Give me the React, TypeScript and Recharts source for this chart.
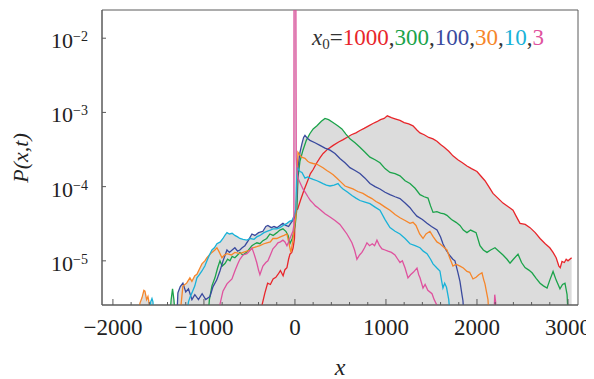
import { ComposedChart, Line, Area, XAxis, YAxis, ReferenceArea } from 'recharts';

// P(x,t), one list per starting point x0
const red = [
  [-380, 1.5e-6], [-360, 2.6e-6], [-330, 3.7e-6], [-300, 5.0e-6], [-270, 4.8e-6], [-240, 5.7e-6],
  [-210, 6.0e-6], [-185, 6.6e-6], [-160, 7.4e-6], [-130, 6.3e-6], [-110, 7.6e-6], [-88, 8.1e-6],
  [-70, 1.05e-5], [-55, 1.23e-5], [-35, 1.3e-5], [-20, 1.5e-5], [-5, 2.0e-5], [0, 3.2e-5],
  [8, 4.8e-5], [30, 5.0e-5], [60, 6.5e-5], [100, 9.0e-5], [140, 1.2e-4], [170, 1.5e-4],
  [200, 1.7e-4], [240, 2.1e-4], [280, 2.5e-4], [310, 2.8e-4], [360, 3.2e-4], [420, 3.6e-4],
  [480, 4.0e-4], [530, 4.3e-4], [570, 4.6e-4], [620, 5.0e-4], [670, 5.3e-4], [714, 5.7e-4],
  [760, 6.1e-4], [810, 6.6e-4], [857, 7.1e-4], [900, 7.5e-4], [940, 8.0e-4], [980, 8.3e-4],
  [1015, 9.0e-4], [1060, 8.5e-4], [1100, 8.2e-4], [1154, 7.8e-4], [1200, 7.3e-4], [1250, 7.0e-4],
  [1297, 6.6e-4], [1340, 5.8e-4], [1374, 5.3e-4], [1420, 5.0e-4], [1470, 4.6e-4], [1517, 4.4e-4],
  [1560, 4.1e-4], [1600, 3.7e-4], [1640, 3.4e-4], [1690, 3.0e-4], [1736, 2.6e-4], [1790, 2.3e-4],
  [1840, 2.1e-4], [1890, 1.9e-4], [1940, 1.75e-4], [2000, 1.6e-4], [2040, 1.4e-4], [2088, 1.2e-4],
  [2130, 1.0e-4], [2176, 8.1e-5], [2230, 7.0e-5], [2286, 6.0e-5], [2340, 5.4e-5], [2396, 4.8e-5],
  [2430, 4.0e-5], [2473, 3.2e-5], [2530, 3.1e-5], [2583, 2.8e-5], [2640, 2.4e-5], [2693, 2.0e-5],
  [2750, 1.7e-5], [2800, 1.5e-5], [2836, 1.3e-5], [2870, 1.1e-5], [2900, 8.5e-6], [2915, 8.1e-6],
  [2934, 9.8e-6], [2960, 9.5e-6], [2980, 1.05e-5], [3000, 1.0e-5], [3040, 1.1e-5],
];

const green = [
  [-1380, 1.5e-6], [-1360, 3.0e-6], [-1345, 4.2e-6], [-1330, 3.0e-6], [-1310, 1.5e-6],
  [-960, 1.5e-6], [-940, 3.0e-6], [-912, 4.6e-6], [-879, 5.9e-6], [-850, 8.0e-6], [-824, 1.0e-5],
  [-800, 8.5e-6], [-769, 9.2e-6], [-740, 1.05e-5], [-714, 1.0e-5], [-690, 1.15e-5], [-660, 1.1e-5],
  [-630, 1.2e-5], [-605, 1.3e-5], [-575, 1.2e-5], [-550, 1.25e-5], [-510, 1.4e-5], [-473, 1.6e-5],
  [-440, 1.7e-5], [-418, 1.75e-5], [-385, 1.7e-5], [-352, 1.87e-5], [-310, 2.0e-5], [-275, 2.3e-5],
  [-240, 2.2e-5], [-198, 2.4e-5], [-165, 2.6e-5], [-132, 2.7e-5], [-100, 2.5e-5], [-75, 2.2e-5],
  [-55, 1.7e-5], [-30, 2.0e-5], [-11, 2.5e-5], [5, 3.2e-5], [22, 5.2e-5], [33, 1.3e-4],
  [55, 2.2e-4], [88, 3.1e-4], [125, 4.2e-4], [165, 5.2e-4], [200, 6.0e-4], [242, 6.6e-4],
  [290, 7.6e-4], [330, 8.3e-4], [370, 8.0e-4], [418, 7.3e-4], [470, 6.6e-4], [516, 6.0e-4],
  [560, 5.1e-4], [604, 4.4e-4], [660, 3.9e-4], [714, 3.4e-4], [770, 2.9e-4], [824, 2.5e-4],
  [880, 2.3e-4], [934, 2.1e-4], [990, 1.75e-4], [1044, 1.55e-4], [1100, 1.5e-4], [1154, 1.4e-4],
  [1210, 1.2e-4], [1264, 1.1e-4], [1320, 9.5e-5], [1374, 7.8e-5], [1420, 7.3e-5], [1462, 7.0e-5],
  [1490, 5.5e-5], [1517, 4.5e-5], [1560, 4.6e-5], [1600, 4.4e-5], [1640, 4.3e-5], [1670, 4.1e-5],
  [1720, 3.6e-5], [1770, 3.3e-5], [1813, 3.0e-5], [1850, 2.6e-5], [1890, 2.4e-5], [1930, 2.6e-5],
  [1960, 2.5e-5], [1990, 2.4e-5], [2033, 1.6e-5], [2070, 1.4e-5], [2110, 1.3e-5], [2150, 1.4e-5],
  [2198, 1.5e-5], [2240, 1.35e-5], [2286, 1.2e-5], [2330, 1.05e-5], [2363, 9.3e-6], [2400, 1.05e-5],
  [2451, 1.23e-5], [2490, 9.5e-6], [2528, 8.1e-6], [2570, 7.5e-6], [2605, 6.9e-6], [2650, 5.8e-6],
  [2693, 5.0e-6], [2730, 4.6e-6], [2770, 4.3e-6], [2800, 5.5e-6], [2836, 7.2e-6], [2870, 5.5e-6],
  [2912, 4.2e-6], [2940, 4.8e-6], [2967, 5.0e-6], [2990, 3.5e-6], [3005, 1.5e-6],
];

const blue = [
  [-1300, 1.5e-6], [-1286, 3.7e-6], [-1260, 4.5e-6], [-1231, 5.0e-6], [-1200, 3.8e-6], [-1170, 4.2e-6],
  [-1132, 3.0e-6], [-1100, 3.5e-6], [-1060, 3.0e-6], [-1020, 3.6e-6], [-980, 3.0e-6], [-934, 3.3e-6],
  [-900, 4.5e-6], [-860, 5.5e-6], [-824, 7.3e-6], [-790, 1.0e-5], [-747, 1.4e-5], [-720, 1.3e-5],
  [-690, 1.4e-5], [-660, 1.5e-5], [-630, 1.35e-5], [-605, 1.4e-5], [-580, 1.5e-5], [-550, 1.6e-5],
  [-510, 1.9e-5], [-473, 2.3e-5], [-440, 2.2e-5], [-400, 2.4e-5], [-352, 2.5e-5], [-320, 2.9e-5],
  [-297, 3.0e-5], [-260, 2.8e-5], [-230, 2.9e-5], [-198, 2.8e-5], [-165, 3.0e-5], [-132, 3.2e-5],
  [-100, 3.0e-5], [-70, 2.9e-5], [-40, 3.3e-5], [-10, 3.7e-5], [10, 4.5e-5], [25, 9.0e-5],
  [33, 1.8e-4], [55, 2.9e-4], [77, 3.8e-4], [95, 4.6e-4], [110, 4.9e-4], [135, 4.5e-4],
  [165, 4.2e-4], [220, 3.9e-4], [275, 3.6e-4], [330, 3.3e-4], [385, 3.1e-4], [440, 2.8e-4],
  [494, 2.4e-4], [550, 2.1e-4], [604, 1.8e-4], [660, 1.65e-4], [714, 1.5e-4], [770, 1.3e-4],
  [824, 1.1e-4], [880, 1.0e-4], [934, 9.3e-5], [990, 8.4e-5], [1044, 7.8e-5], [1100, 7.3e-5],
  [1154, 6.9e-5], [1210, 6.0e-5], [1264, 5.2e-5], [1297, 4.6e-5], [1340, 4.0e-5], [1400, 3.6e-5],
  [1451, 3.2e-5], [1500, 2.9e-5], [1561, 2.6e-5], [1600, 2.1e-5], [1626, 1.7e-5], [1660, 1.4e-5],
  [1703, 1.17e-5], [1735, 1.05e-5], [1758, 1.0e-5], [1790, 7.0e-6], [1813, 5.3e-6], [1835, 3.5e-6],
  [1846, 2.9e-6], [1860, 1.5e-6],
];

const orange = [
  [-1720, 1.5e-6], [-1703, 2.7e-6], [-1680, 3.2e-6], [-1660, 4.0e-6], [-1648, 3.9e-6], [-1630, 3.0e-6],
  [-1615, 3.3e-6], [-1600, 2.6e-6], [-1585, 1.5e-6],
  [-1270, 1.5e-6], [-1231, 4.6e-6], [-1190, 5.0e-6], [-1154, 5.9e-6], [-1132, 5.3e-6], [-1100, 6.3e-6],
  [-1077, 6.6e-6], [-1044, 8.0e-6], [-1022, 9.1e-6], [-990, 1.0e-5], [-967, 1.1e-5], [-940, 1.2e-5],
  [-912, 1.3e-5], [-880, 1.4e-5], [-857, 1.5e-5], [-830, 1.3e-5], [-802, 1.1e-5], [-775, 1.2e-5],
  [-747, 1.25e-5], [-700, 1.2e-5], [-660, 1.3e-5], [-605, 1.25e-5], [-570, 1.3e-5], [-528, 1.35e-5],
  [-490, 1.4e-5], [-462, 1.5e-5], [-420, 1.55e-5], [-385, 1.6e-5], [-340, 1.7e-5], [-308, 1.75e-5],
  [-270, 1.8e-5], [-242, 2.0e-5], [-200, 2.0e-5], [-160, 2.1e-5], [-120, 2.2e-5], [-88, 2.3e-5],
  [-65, 1.7e-5], [-45, 1.3e-5], [-25, 1.8e-5], [-10, 2.7e-5], [10, 4.0e-5], [22, 1.2e-4],
  [33, 2.9e-4], [50, 2.7e-4], [75, 2.5e-4], [110, 2.4e-4], [140, 2.2e-4], [165, 2.1e-4],
  [200, 2.05e-4], [242, 2.0e-4], [275, 1.9e-4], [308, 1.8e-4], [350, 1.65e-4], [385, 1.55e-4],
  [420, 1.45e-4], [462, 1.3e-4], [506, 1.15e-4], [550, 1.02e-4], [590, 9.8e-5], [637, 9.3e-5],
  [690, 8.6e-5], [747, 8.1e-5], [800, 7.4e-5], [846, 6.9e-5], [890, 6.3e-5], [934, 5.9e-5],
  [990, 5.3e-5], [1044, 4.8e-5], [1100, 4.2e-5], [1154, 3.8e-5], [1210, 3.5e-5], [1264, 3.2e-5],
  [1297, 3.3e-5], [1330, 3.0e-5], [1370, 2.3e-5], [1407, 2.0e-5], [1440, 2.3e-5], [1483, 2.5e-5],
  [1520, 2.1e-5], [1560, 1.8e-5], [1593, 1.7e-5], [1630, 1.55e-5], [1670, 1.4e-5], [1700, 1.1e-5],
  [1736, 8.5e-6], [1770, 9.0e-6], [1813, 8.5e-6], [1850, 8.0e-6], [1890, 7.2e-6], [1920, 7.0e-6],
  [1956, 5.7e-6], [1990, 6.0e-6], [2020, 6.5e-6], [2055, 6.9e-6], [2075, 5.5e-6], [2088, 4.9e-6],
  [2105, 3.8e-6], [2121, 3.0e-6], [2135, 1.5e-6],
];

const cyan = [
  [-1600, 1.5e-6], [-1585, 2.8e-6], [-1571, 3.1e-6], [-1560, 2.8e-6], [-1550, 1.5e-6],
  [-1200, 1.5e-6], [-1170, 2.8e-6], [-1150, 3.3e-6], [-1132, 3.7e-6], [-1100, 4.6e-6], [-1077, 5.9e-6],
  [-1050, 6.5e-6], [-1022, 7.3e-6], [-990, 8.5e-6], [-967, 1.0e-5], [-940, 1.2e-5], [-912, 1.4e-5],
  [-885, 1.5e-5], [-857, 1.7e-5], [-820, 1.8e-5], [-791, 2.0e-5], [-770, 2.2e-5], [-747, 2.4e-5],
  [-720, 2.3e-5], [-690, 2.35e-5], [-660, 2.2e-5], [-630, 2.1e-5], [-605, 2.0e-5], [-570, 1.95e-5],
  [-528, 1.9e-5], [-490, 2.0e-5], [-450, 1.95e-5], [-420, 2.1e-5], [-385, 2.2e-5], [-340, 2.4e-5],
  [-308, 2.5e-5], [-270, 2.6e-5], [-242, 2.7e-5], [-200, 2.7e-5], [-165, 2.8e-5], [-130, 3.0e-5],
  [-88, 3.2e-5], [-60, 3.4e-5], [-33, 3.5e-5], [-10, 4.0e-5], [10, 5.0e-5], [22, 1.8e-4],
  [33, 1.75e-4], [55, 1.6e-4], [77, 1.55e-4], [110, 1.3e-4], [140, 1.35e-4], [165, 1.3e-4],
  [200, 1.25e-4], [242, 1.2e-4], [275, 1.15e-4], [308, 1.1e-4], [345, 1.05e-4], [385, 1.02e-4],
  [430, 1.05e-4], [473, 1.1e-4], [500, 1.0e-4], [528, 9.3e-5], [580, 8.4e-5], [626, 7.6e-5],
  [670, 7.0e-5], [714, 6.5e-5], [770, 6.2e-5], [824, 5.9e-5], [880, 5.3e-5], [934, 4.8e-5],
  [990, 3.6e-5], [1044, 2.8e-5], [1100, 2.5e-5], [1154, 2.3e-5], [1210, 2.0e-5], [1264, 1.7e-5],
  [1320, 1.6e-5], [1374, 1.5e-5], [1410, 1.35e-5], [1451, 1.25e-5], [1490, 1.05e-5], [1517, 9.1e-6],
  [1560, 8.0e-6], [1593, 7.3e-6], [1610, 5.5e-6], [1626, 4.3e-6], [1645, 5.0e-6], [1665, 4.4e-6],
  [1690, 3.0e-6], [1710, 1.5e-6],
];

const pink = [
  [-840, 1.5e-6], [-824, 2.6e-6], [-791, 3.9e-6], [-747, 4.9e-6], [-692, 5.7e-6], [-660, 7.3e-6],
  [-630, 9.0e-6], [-605, 1.05e-5], [-570, 1.2e-5], [-528, 1.25e-5], [-500, 1.35e-5], [-473, 1.5e-5],
  [-450, 1.25e-5], [-420, 9.5e-6], [-400, 7.5e-6], [-385, 6.5e-6], [-352, 8.5e-6], [-320, 9.5e-6],
  [-297, 1.0e-5], [-270, 1.2e-5], [-242, 1.45e-5], [-210, 1.6e-5], [-187, 1.75e-5], [-160, 1.8e-5],
  [-132, 1.9e-5], [-110, 1.8e-5], [-88, 1.6e-5], [-70, 1.8e-5], [-55, 2.0e-5], [-35, 2.3e-5],
  [-22, 2.5e-5], [-12, 3.0e-5], [-10, 0.05], [10, 0.05], [14, 2.5e-4], [22, 1.6e-4],
  [33, 1.3e-4], [60, 1.1e-4], [88, 9.3e-5], [110, 8.5e-5], [143, 7.3e-5], [170, 6.5e-5],
  [198, 6.0e-5], [225, 5.5e-5], [253, 5.2e-5], [285, 4.8e-5], [330, 4.3e-5], [385, 3.9e-5],
  [440, 3.5e-5], [494, 3.1e-5], [530, 2.7e-5], [571, 2.3e-5], [600, 2.0e-5], [626, 1.75e-5],
  [655, 1.4e-5], [681, 1.05e-5], [710, 1.2e-5], [736, 1.3e-5], [765, 1.5e-5], [791, 1.75e-5],
  [820, 1.6e-5], [850, 1.7e-5], [875, 1.6e-5], [901, 1.9e-5], [930, 1.6e-5], [956, 1.45e-5],
  [990, 1.4e-5], [1022, 1.35e-5], [1060, 1.3e-5], [1099, 1.2e-5], [1130, 1.05e-5], [1154, 9.5e-6],
  [1180, 1.0e-5], [1210, 8.0e-6], [1242, 5.9e-6], [1270, 6.5e-6], [1300, 7.0e-6], [1341, 8.0e-6],
  [1360, 6.5e-6], [1374, 5.9e-6], [1407, 4.3e-6], [1430, 4.8e-6], [1460, 4.0e-6], [1506, 3.6e-6],
  [1530, 3.0e-6], [1561, 2.5e-6], [1580, 1.5e-6],
  [2185, 1.5e-6], [2195, 3.5e-6], [2205, 2.8e-6], [2215, 1.5e-6],
];

const x0Labels = ['1000', '300', '100', '30', '10', '3'];
const xTicks = [-2000, -1800, -1600, -1400, -1200, -1000, -800, -600, -400, -200, 0, 200, 400, 600, 800, 1000,
  1200, 1400, 1600, 1800, 2000, 2200, 2400, 2600, 2800, 3000];
const yTicks = [1e-5, 1e-4, 1e-3, 1e-2];

const X_DOMAIN: [number, number] = [-2120, 3110];
const Y_DOMAIN: [number, number] = [2.54e-6, 0.024];

const SERIF = '"Liberation Serif", "DejaVu Serif", serif';
const AXIS = '#5a5a5a';
const SHADE = '#dcdcdc';

const series = [
  { name: x0Labels[0], color: '#e8262b', data: red },
  { name: x0Labels[1], color: '#1ba34a', data: green },
  { name: x0Labels[2], color: '#3a4a9e', data: blue },
  { name: x0Labels[3], color: '#f6862a', data: orange },
  { name: x0Labels[4], color: '#19b2d8', data: cyan },
  { name: x0Labels[5], color: '#df529e', data: pink },
].map((s) => ({ ...s, points: s.data.map(([x, y]) => ({ x, y })) }));

const fmt = (v: number) => (v < 0 ? '\u2212' + Math.abs(v) : String(v));

function XTick({ x, y, payload }: any) {
  const v = payload.value as number;
  const major = v % 1000 === 0;
  return (
    <g>
      <line x1={x} x2={x} y1={y} y2={y - (major ? 6 : 3)} stroke={AXIS} />
      {major && (
        <text x={x} y={y + 30} textAnchor="middle" fontSize={23} fill="#222" fontFamily={SERIF}>
          {fmt(v)}
        </text>
      )}
    </g>
  );
}

function YTick({ x, y, payload }: any) {
  const e = Math.round(Math.log10(payload.value));
  return (
    <g>
      <line x1={x} x2={x + 4} y1={y} y2={y} stroke={AXIS} />
      <text x={x - 14} y={y + 10} textAnchor="end" fontSize={22} fill="#222" fontFamily={SERIF}>
        <tspan>10</tspan>
        <tspan fontSize={14} dy={-7}>{'\u2212' + Math.abs(e)}</tspan>
      </text>
    </g>
  );
}

export default function App() {
  return (
    <div style={{ position: 'relative', width: 594, height: 379, margin: '-8px 0 0 -8px' }}>
      <ComposedChart width={594} height={379} margin={{ top: 10, right: 16, left: 0, bottom: 0 }}>
        <XAxis
          type="number"
          dataKey="x"
          domain={X_DOMAIN}
          allowDataOverflow
          ticks={xTicks}
          interval={0}
          tickSize={0}
          tickMargin={0}
          tick={<XTick />}
          axisLine={{ stroke: AXIS }}
          height={74}
        />
        <YAxis
          type="number"
          dataKey="y"
          scale="log"
          domain={Y_DOMAIN}
          allowDataOverflow
          ticks={yTicks}
          interval={0}
          tickSize={0}
          tickMargin={0}
          tick={<YTick />}
          axisLine={{ stroke: AXIS }}
          width={102}
        />
        {series.map((s) => (
          <Area
            key={'shade' + s.name}
            data={s.points}
            dataKey="y"
            type="linear"
            fill={SHADE}
            fillOpacity={1}
            stroke="none"
            isAnimationActive={false}
          />
        ))}
        {series.map((s) => (
          <Line
            key={s.name}
            data={s.points}
            dataKey="y"
            type="linear"
            stroke={s.color}
            strokeWidth={1.3}
            dot={false}
            isAnimationActive={false}
          />
        ))}
        <ReferenceArea
          x1={X_DOMAIN[0]}
          x2={X_DOMAIN[1]}
          y1={Y_DOMAIN[0]}
          y2={Y_DOMAIN[1]}
          fill="none"
          stroke={AXIS}
          strokeWidth={1}
          ifOverflow="visible"
        />
      </ComposedChart>
      <svg
        width={594}
        height={379}
        style={{ position: 'absolute', left: 0, top: 0, pointerEvents: 'none', overflow: 'visible' }}
      >
        <text x={312} y={45} fontSize={23} fontFamily={SERIF} fill="#333">
          <tspan fontStyle="italic">x</tspan>
          <tspan fontSize={15} dy={4}>0</tspan>
          <tspan dy={-4}>=</tspan>
          {series.map((s, i) => (
            <tspan key={s.name}>
              <tspan fill={s.color}>{s.name}</tspan>
              {i < series.length - 1 && <tspan fill="#333">,</tspan>}
            </tspan>
          ))}
        </text>
        <text
          transform="translate(28,158) rotate(-90)"
          textAnchor="middle"
          fontSize={22}
          fontStyle="italic"
          fontFamily={SERIF}
          fill="#222"
        >
          P(x,t)
        </text>
        <text x={340} y={375} textAnchor="middle" fontSize={24} fontStyle="italic" fontFamily={SERIF} fill="#222">
          x
        </text>
      </svg>
    </div>
  );
}
